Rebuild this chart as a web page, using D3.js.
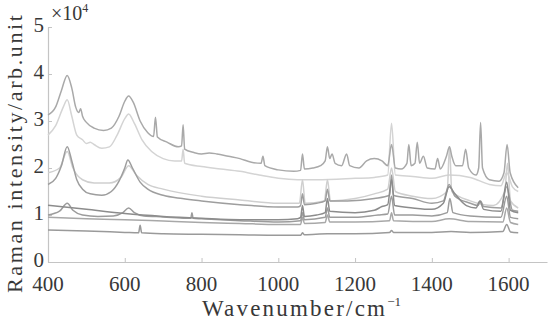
<!DOCTYPE html>
<html>
<head>
<meta charset="utf-8">
<script src="https://cdn.jsdelivr.net/npm/d3@7"></script>
<style>
  body { margin: 0; background: #fff; }
  svg text { font-family: "Liberation Serif", "Times New Roman", "DejaVu Serif", serif; fill: #383838; }
</style>
</head>
<body>
<div id="chart"></div>
<script>
// Tick values
const xTicks = [400, 600, 800, 1000, 1200, 1400, 1600];
const yTicks = [0, 1, 2, 3, 4, 5];

// Spectra as [wavenumber, intensity x10^4]
const spectrum1 = [[400,3.13],[420,3.3],[435,3.65],[450,3.97],[462,3.7],[472,3.3],[480,3.18],[485,3.26],[490,3.1],[500,2.97],[520,2.85],[545,2.8],[565,2.85],[585,3.1],[600,3.42],[610,3.53],[622,3.4],[640,3.0],[660,2.75],[675,2.67],[680,3.08],[685,2.66],[710,2.55],[740,2.45],[748,2.47],[752,2.92],[756,2.4],[780,2.33],[800,2.3],[820,2.32],[840,2.3],[870,2.25],[900,2.2],[930,2.12],[955,2.1],[960,2.25],[965,2.05],[1000,1.96],[1040,1.93],[1058,1.95],[1063,2.3],[1068,1.98],[1090,2.0],[1110,2.05],[1122,2.15],[1128,2.45],[1134,2.2],[1140,2.3],[1148,2.1],[1165,2.05],[1178,2.3],[1186,2.05],[1210,2.0],[1230,2.15],[1250,2.2],[1270,2.15],[1285,2.05],[1295,2.5],[1305,2.0],[1320,1.98],[1335,2.1],[1340,2.5],[1346,2.05],[1356,2.1],[1362,2.55],[1368,2.1],[1378,2.25],[1388,2.0],[1408,1.98],[1415,2.2],[1422,1.98],[1438,2.25],[1446,2.45],[1452,2.25],[1462,2.05],[1480,2.05],[1488,2.4],[1496,2.0],[1515,1.85],[1522,2.0],[1527,2.97],[1532,2.0],[1550,1.75],[1575,1.72],[1588,1.9],[1596,2.5],[1604,1.9],[1625,1.58]];
const spectrum2 = [[400,2.7],[420,2.9],[440,3.3],[450,3.45],[462,3.1],[475,2.7],[490,2.6],[500,2.52],[510,2.55],[520,2.5],[540,2.42],[560,2.45],[580,2.7],[600,3.05],[610,3.15],[625,2.95],[645,2.6],[670,2.35],[700,2.2],[730,2.15],[748,2.15],[752,2.4],[756,2.1],[800,2.03],[850,1.98],[900,1.93],[950,1.85],[1000,1.78],[1050,1.75],[1100,1.75],[1200,1.78],[1250,1.8],[1285,1.85],[1295,2.95],[1305,1.85],[1350,1.82],[1400,1.78],[1445,1.85],[1500,1.8],[1550,1.65],[1580,1.62],[1595,1.9],[1610,1.6],[1625,1.5]];
const spectrum3 = [[400,1.65],[420,1.78],[435,2.05],[450,2.45],[462,2.15],[475,1.75],[490,1.55],[510,1.45],[540,1.42],[565,1.5],[585,1.72],[600,2.0],[608,2.17],[620,2.0],[640,1.7],[660,1.55],[700,1.42],[750,1.35],[800,1.3],[900,1.22],[1000,1.17],[1050,1.17],[1058,1.2],[1063,1.45],[1068,1.22],[1100,1.25],[1122,1.3],[1128,1.55],[1134,1.3],[1180,1.3],[1250,1.35],[1290,1.42],[1295,1.85],[1300,1.42],[1350,1.35],[1400,1.25],[1430,1.3],[1445,1.65],[1460,1.4],[1500,1.25],[1520,1.2],[1527,1.3],[1535,1.18],[1580,1.15],[1595,1.6],[1610,1.1],[1625,1.08]];
const spectrum4 = [[400,1.9],[430,2.0],[450,2.35],[465,2.0],[490,1.75],[520,1.68],[560,1.68],[590,1.8],[610,2.05],[630,1.85],[660,1.65],[700,1.55],[800,1.4],[900,1.32],[1000,1.25],[1055,1.25],[1063,1.75],[1070,1.25],[1120,1.3],[1128,1.75],[1136,1.3],[1200,1.35],[1250,1.45],[1285,1.55],[1295,2.0],[1305,1.5],[1350,1.4],[1400,1.35],[1440,1.5],[1446,2.45],[1452,1.5],[1500,1.3],[1560,1.2],[1590,1.5],[1597,2.1],[1605,1.3],[1625,1.15]];
const spectrum5 = [[400,1.21],[500,1.12],[600,1.03],[700,0.97],[800,0.93],[900,0.9],[1000,0.9],[1050,0.92],[1058,0.95],[1063,1.2],[1068,0.97],[1100,1.0],[1122,1.05],[1128,1.35],[1134,1.08],[1200,1.05],[1250,1.1],[1270,1.18],[1285,1.22],[1295,1.75],[1303,1.2],[1350,1.15],[1400,1.12],[1430,1.25],[1445,1.6],[1460,1.45],[1490,1.2],[1515,1.15],[1525,1.3],[1535,1.12],[1580,1.08],[1595,1.7],[1605,1.1],[1625,1.05]];
const spectrum6 = [[400,1.0],[430,1.08],[450,1.25],[465,1.1],[490,1.0],[530,0.97],[570,0.98],[595,1.05],[610,1.15],[625,1.05],[650,0.98],[700,0.96],[760,0.93],[772,0.93],[775,1.05],[778,0.93],[800,0.92],[900,0.88],[1000,0.85],[1058,0.88],[1063,1.05],[1068,0.9],[1122,0.95],[1128,1.15],[1134,0.95],[1200,0.95],[1260,1.0],[1285,1.02],[1295,1.4],[1303,1.0],[1350,1.0],[1400,0.98],[1440,1.05],[1447,1.35],[1455,1.05],[1500,0.98],[1580,0.95],[1595,1.4],[1605,0.95],[1625,0.92]];
const spectrum7 = [[400,0.95],[500,0.92],[600,0.9],[700,0.87],[800,0.84],[900,0.82],[1000,0.8],[1058,0.8],[1063,0.95],[1068,0.82],[1122,0.84],[1128,1.0],[1134,0.85],[1200,0.85],[1290,0.88],[1295,1.05],[1300,0.88],[1400,0.86],[1445,0.92],[1500,0.86],[1585,0.85],[1595,1.15],[1605,0.84],[1625,0.8]];
const spectrum8 = [[400,0.68],[500,0.66],[600,0.63],[636,0.62],[640,0.78],[644,0.62],[700,0.6],[800,0.59],[900,0.58],[1000,0.57],[1058,0.57],[1063,0.62],[1068,0.58],[1128,0.6],[1200,0.6],[1290,0.63],[1295,0.67],[1300,0.63],[1400,0.63],[1450,0.65],[1500,0.63],[1585,0.65],[1595,0.8],[1605,0.64],[1625,0.62]];

const spectra = [spectrum2, spectrum4, spectrum1, spectrum3, spectrum7, spectrum8, spectrum6, spectrum5];
const colors = ["#d4d4d4", "#cfcfcf", "#a9a9a9", "#9e9e9e", "#a8a8a8", "#9a9a9a", "#9c9c9c", "#8c8c8c"];

const width = 550, height = 323;

const svg = d3.select("#chart")
  .append("svg")
  .attr("width", width)
  .attr("height", height);

const x = d3.scaleLinear().domain([400, 1700]).range([48, 547]);
const y = d3.scaleLinear().domain([0, 5]).range([262, 27]);

// Axes: light gray lines with short inward ticks
const axisColor = "#c4c4c4";

const xAxis = svg.append("g")
  .attr("transform", `translate(0,${y(0)})`)
  .call(d3.axisTop(x).tickValues(xTicks).tickSize(4).tickFormat("").tickSizeOuter(0));
const yAxis = svg.append("g")
  .attr("transform", `translate(${x(400)},0)`)
  .call(d3.axisRight(y).tickValues(yTicks).tickSize(4).tickFormat("").tickSizeOuter(0));
[xAxis, yAxis].forEach(a => {
  a.select(".domain").attr("stroke", axisColor).attr("stroke-width", 1.2);
  a.selectAll(".tick line").attr("stroke", axisColor);
});

// Tick labels
svg.append("g").selectAll("text")
  .data(xTicks)
  .enter()
  .append("text")
  .attr("x", d => x(d))
  .attr("y", 291)
  .attr("text-anchor", "middle")
  .attr("font-size", 21)
  .text(d => d);

svg.append("g").selectAll("text")
  .data(yTicks)
  .enter()
  .append("text")
  .attr("x", 44)
  .attr("y", d => y(d) + 5)
  .attr("text-anchor", "end")
  .attr("font-size", 21)
  .text(d => d);

// Exponent note
const expo = svg.append("text").attr("x", 51).attr("y", 20).attr("font-size", 20);
expo.append("tspan").text("×10");
expo.append("tspan").attr("dy", -8).attr("font-size", 12).text("4");

// Axis titles
const xTitle = svg.append("text")
  .attr("x", 202)
  .attr("y", 316)
  .attr("font-size", 23)
  .attr("letter-spacing", 2.2);
xTitle.append("tspan").text("Wavenumber/cm");
xTitle.append("tspan").attr("dy", -10).attr("font-size", 13).attr("letter-spacing", 0).text("−1");

svg.append("text")
  .attr("transform", "translate(22,154) rotate(-90)")
  .attr("text-anchor", "middle")
  .attr("font-size", 22)
  .attr("textLength", 278)
  .attr("lengthAdjust", "spacing")
  .text("Raman intensity/arb.unit");

// Spectra
const line = d3.line()
  .x(d => x(d[0]))
  .y(d => y(d[1]))
  .curve(d3.curveMonotoneX);

svg.append("g").selectAll("path")
  .data(spectra)
  .enter()
  .append("path")
  .attr("d", line)
  .attr("fill", "none")
  .attr("stroke", (d, i) => colors[i])
  .attr("stroke-width", 1.5);
</script>
</body>
</html>
